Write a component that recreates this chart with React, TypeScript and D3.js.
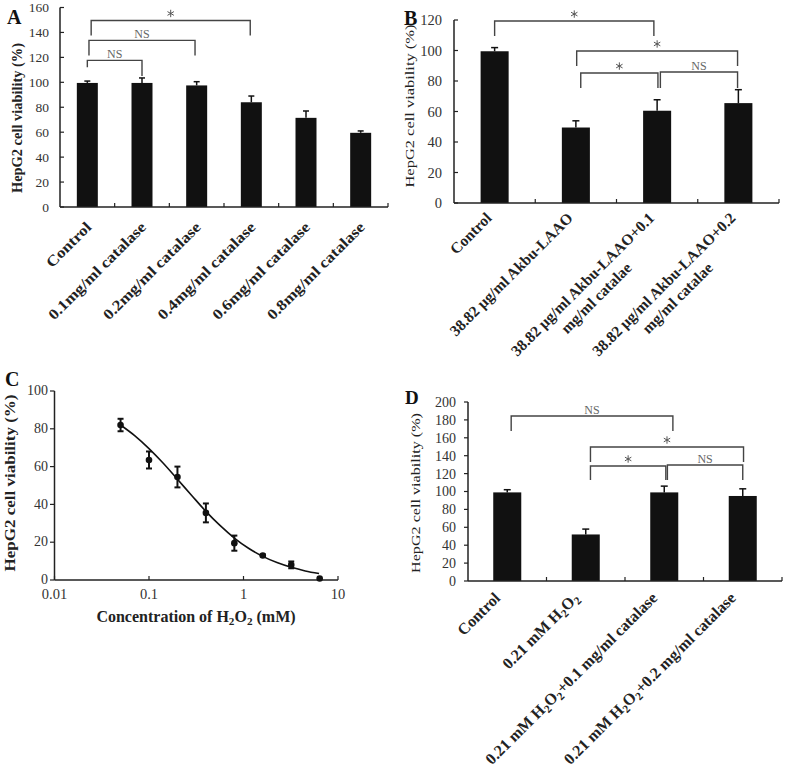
import React, { useLayoutEffect, useRef } from "react";
import * as d3 from "d3";

const SERIF = "'Liberation Serif','Times New Roman',Times,serif";

// ---------- Panel A data ----------
const catsA = [["Control"], ["0.1mg/ml catalase"], ["0.2mg/ml catalase"], ["0.4mg/ml catalase"], ["0.6mg/ml catalase"], ["0.8mg/ml catalase"]];
const valsA = [99.5, 99.5, 97.5, 84, 71.5, 59.5];
const errsA = [1.5, 4, 3, 5, 5.5, 1.5];
const ticksA = [0, 20, 40, 60, 80, 100, 120, 140, 160];
const bracketsA = [
  { a: 0, b: 1, label: "NS", top: 117.6, endA: 112, endB: 105 },
  { a: 0.03, b: 1.97, label: "NS", top: 133.6, endA: 121.6, endB: 121.6 },
  { a: 0.07, b: 2.98, label: "*", top: 149.6, endA: 137.6, endB: 137.6 },
];

// ---------- Panel B data ----------
const catsB = [
  ["Control"],
  ["38.82 μg/ml Akbu-LAAO"],
  ["38.82 μg/ml Akbu-LAAO+0.1", "mg/ml catalae"],
  ["38.82 μg/ml Akbu-LAAO+0.2", "mg/ml catalae"],
];
const valsB = [99.5, 49.5, 60.5, 65.5];
const errsB = [2.4, 4.4, 7.2, 8.8];
const ticksB = [0, 20, 40, 60, 80, 100, 120];
const bracketsB = [
  { a: 0, b: 1.96, label: "*", top: 119.3, endA: 109.5, endB: 109.5 },
  { a: 1.01, b: 2.99, label: "*", top: 99.7, endA: 89.8, endB: 89.8 },
  { a: 1.06, b: 2.01, label: "*", top: 85.2, endA: 75.4, endB: 75.4 },
  { a: 2.04, b: 2.99, label: "NS", top: 85.9, endA: 75.4, endB: 75.4 },
];

// ---------- Panel C data ----------
const dosesC = [0.05, 0.1, 0.2, 0.4, 0.8, 1.6, 3.2, 6.4];
const viabC = [82, 63.5, 54.5, 35.5, 19.5, 13, 8, 0.8];
const errC = [3.3, 4.5, 5.5, 5, 4, 0.5, 1.8, 0];
const fitDoseC = [0.05, 0.07, 0.1, 0.14, 0.2, 0.28, 0.4, 0.56, 0.8, 1.13, 1.6, 2.26, 3.2, 4.5, 6.3];
const fitViabC = [82, 76.5, 69.5, 62, 53.3, 45, 36.3, 29, 22.2, 16.8, 12.5, 9.2, 6.7, 4.8, 3.4];
const xTicksC = [0.01, 0.1, 1, 10];
const xTickLabelsC = ["0.01", "0.1", "1", "10"];
const yTicksC = [0, 20, 40, 60, 80, 100];

// ---------- Panel D data ----------
const catsD = [["Control"], ["0.21 mM H_2O_2"], ["0.21 mM H_2O_2+0.1 mg/ml catalase"], ["0.21 mM H_2O_2+0.2 mg/ml catalase"]];
const valsD = [99, 52, 99, 95];
const errsD = [3, 6, 7, 8];
const ticksD = [0, 20, 40, 60, 80, 100, 120, 140, 160, 180, 200];
const bracketsD = [
  { a: 0.05, b: 2.11, label: "NS", top: 184.4, endA: 167.6, endB: 167.6 },
  { a: 1.06, b: 3.01, label: "*", top: 149.7, endA: 133, endB: 133 },
  { a: 1.06, b: 2.02, label: "*", top: 128.5, endA: 112.8, endB: 112.8 },
  { a: 2.04, b: 3.0, label: "NS", top: 129.6, endA: 112.8, endB: 112.8 },
];

const asteriskPath = d3.symbol(d3.symbolAsterisk, 38)() || "";

function rich(s: string) {
  const parts = s.split(/(_\d)/).filter((p) => p !== "");
  const out: any[] = [];
  let prevSub = false;
  parts.forEach((pt, i) => {
    if (pt.startsWith("_")) {
      out.push(
        <tspan key={i} fontSize="0.7em" dy="0.3em">
          {pt.slice(1)}
        </tspan>
      );
      prevSub = true;
    } else {
      out.push(
        <tspan key={i} dy={prevSub ? "-0.21em" : undefined}>
          {pt}
        </tspan>
      );
      prevSub = false;
    }
  });
  return out;
}

type Cfg = {
  cats: string[][];
  vals: number[];
  errs: number[];
  ticks: number[];
  yMax: number;
  brackets: { a: number; b: number; label: string; top: number; endA: number; endB: number }[];
  x0: number;
  x1: number;
  yZero: number;
  yTop: number;
  barFrac: number;
  capW: number;
  tickIn: boolean;
  tickLabelGap: number;
  tickFont: number;
  labelFont: number;
  labelDx: number;
  labelDy: number;
  labelStretch: number;
  title: { x: number; y: number; len: number; size: number; bold: boolean };
  letter: { x: number; y: number; t: string; size: number };
};

function BarPanel({ c }: { c: Cfg }) {
  const n = c.cats.length;
  const pad = 1 - c.barFrac;
  const xb = d3.scaleBand<number>().domain(d3.range(n)).range([c.x0, c.x1]).paddingInner(pad).paddingOuter(pad / 2);
  const step = xb.step();
  const c0 = (xb(0) as number) + xb.bandwidth() / 2;
  const pos = d3.scaleLinear().domain([0, n - 1]).range([c0, c0 + step * (n - 1)]);
  const y = d3.scaleLinear().domain([0, c.yMax]).range([c.yZero, c.yTop]);
  const tk = c.tickIn ? 4 : -4;
  const axisCol = "#222";
  return (
    <g fontFamily={SERIF}>
      <text x={c.letter.x} y={c.letter.y} fontSize={c.letter.size} fontWeight="bold" fill="#111">
        {c.letter.t}
      </text>
      <text
        transform={`translate(${c.title.x},${c.title.y}) rotate(-90)`}
        textAnchor="middle"
        fontSize={c.title.size}
        fontWeight={c.title.bold ? "bold" : "normal"}
        textLength={c.title.len}
        lengthAdjust="spacingAndGlyphs"
        fill="#222"
      >
        HepG2 cell viability (%)
      </text>
      {c.vals.map((v, i) => (
        <rect key={i} x={xb(i)} y={y(v)} width={xb.bandwidth()} height={y(0) - y(v)} fill="#111" />
      ))}
      {c.vals.map((v, i) => {
        const cx = pos(i);
        return (
          <g key={i} stroke="#111" strokeWidth={1.5}>
            <line x1={cx} x2={cx} y1={y(v)} y2={y(v + c.errs[i])} />
            <line x1={cx - c.capW / 2} x2={cx + c.capW / 2} y1={y(v + c.errs[i])} y2={y(v + c.errs[i])} />
          </g>
        );
      })}
      <line x1={c.x0} x2={c.x0} y1={y(0)} y2={y(c.yMax)} stroke={axisCol} strokeWidth={1.5} />
      <line x1={c.x0} x2={c.x1} y1={y(0)} y2={y(0)} stroke={axisCol} strokeWidth={1.5} />
      {c.ticks.map((t) => (
        <g key={t}>
          <line x1={c.x0} x2={c.x0 + tk} y1={y(t)} y2={y(t)} stroke={axisCol} strokeWidth={1.2} />
          <text x={c.x0 - c.tickLabelGap} y={y(t)} dy="0.35em" textAnchor="end" fontSize={c.tickFont} fill="#333">
            {t}
          </text>
        </g>
      ))}
      {d3.range(1, n + 1).map((i) => (
        <line key={i} x1={c.x0 + i * step} x2={c.x0 + i * step} y1={y(0)} y2={y(0) - 4} stroke={axisCol} strokeWidth={1.2} />
      ))}
      {c.cats.map((lines, i) => (
        <g
          key={i}
          className="catlabel"
          transform={`translate(${pos(i) + c.labelDx},${c.yZero + c.labelDy}) rotate(-45) scale(${c.labelStretch},1)`}
        >
          <text className="l1" textAnchor="end" fontSize={c.labelFont} fontWeight="bold" fill="#222">
            {rich(lines[0])}
          </text>
          {lines.length > 1 && (
            <text className="l2" textAnchor="middle" y={c.labelFont * 1.25} fontSize={c.labelFont} fontWeight="bold" fill="#222">
              {rich(lines[1])}
            </text>
          )}
        </g>
      ))}
      {c.brackets.map((b, i) => {
        const xa = pos(b.a);
        const xe = pos(b.b);
        const star = b.label === "*";
        const mx = (xa + xe) / 2;
        return (
          <g key={i}>
            <path d={`M${xa},${y(b.endA)}V${y(b.top)}H${xe}V${y(b.endB)}`} fill="none" stroke="#444" strokeWidth={1.4} />
            {star ? (
              <path transform={`translate(${mx},${y(b.top) - 7})`} d={asteriskPath} fill="none" stroke="#555" strokeWidth={1} />
            ) : (
              <text x={mx} y={y(b.top) - 2} textAnchor="middle" fontSize={12} fill="#666">
                {b.label}
              </text>
            )}
          </g>
        );
      })}
    </g>
  );
}

function PanelC() {
  const x = d3.scaleLog().domain([0.01, 10]).range([54.5, 338]);
  const y = d3.scaleLinear().domain([0, 100]).range([580, 391]);
  const line = d3
    .line<number>()
    .x((_, i) => x(fitDoseC[i]))
    .y((d) => y(d))
    .curve(d3.curveMonotoneX);
  const axisCol = "#222";
  return (
    <g fontFamily={SERIF}>
      <text x={5} y={386} fontSize={20} fontWeight="bold" fill="#111">
        C
      </text>
      <text
        transform={`translate(15,483) rotate(-90)`}
        textAnchor="middle"
        fontSize={15}
        fontWeight="bold"
        textLength={177}
        lengthAdjust="spacingAndGlyphs"
        fill="#222"
      >
        HepG2 cell viability (%)
      </text>
      <line x1={54.5} x2={54.5} y1={y(0)} y2={y(100)} stroke={axisCol} strokeWidth={1.5} />
      <line x1={54.5} x2={338} y1={y(0)} y2={y(0)} stroke={axisCol} strokeWidth={1.5} />
      {yTicksC.map((t) => (
        <g key={t}>
          <line x1={54.5} x2={50} y1={y(t)} y2={y(t)} stroke={axisCol} strokeWidth={1.2} />
          <text x={48} y={y(t)} dy="0.3em" textAnchor="end" fontSize={14} fill="#333">
            {t}
          </text>
        </g>
      ))}
      {xTicksC.map((t, i) => (
        <g key={t}>
          <line x1={x(t)} x2={x(t)} y1={y(0)} y2={y(0) - 4} stroke={axisCol} strokeWidth={1.2} />
          <text x={x(t)} y={599} textAnchor="middle" fontSize={14.5} fill="#333">
            {xTickLabelsC[i]}
          </text>
        </g>
      ))}
      <text x={196} y={622} textAnchor="middle" fontSize={16} fontWeight="bold" fill="#222">
        {rich("Concentration of H_2O_2 (mM)")}
      </text>
      <path d={line(fitViabC) || ""} fill="none" stroke="#111" strokeWidth={1.6} />
      {dosesC.map((d, i) => {
        const cx = x(d);
        return (
          <g key={i} stroke="#111" strokeWidth={2}>
            {errC[i] > 0 && (
              <>
                <line x1={cx} x2={cx} y1={y(viabC[i] - errC[i])} y2={y(viabC[i] + errC[i])} />
                <line x1={cx - 3} x2={cx + 3} y1={y(viabC[i] + errC[i])} y2={y(viabC[i] + errC[i])} />
                <line x1={cx - 3} x2={cx + 3} y1={y(viabC[i] - errC[i])} y2={y(viabC[i] - errC[i])} />
              </>
            )}
            <circle cx={cx} cy={y(viabC[i])} r={3.3} fill="#111" stroke="none" />
          </g>
        );
      })}
    </g>
  );
}

const cfgA: Cfg = {
  cats: catsA, vals: valsA, errs: errsA, ticks: ticksA, yMax: 160, brackets: bracketsA,
  x0: 60, x1: 388, yZero: 207, yTop: 7.5, barFrac: 0.384, capW: 6, tickIn: true,
  tickLabelGap: 11, tickFont: 13.5, labelFont: 15, labelDx: 5, labelDy: 21, labelStretch: 1.15,
  title: { x: 22, y: 118, len: 150, size: 14, bold: true },
  letter: { x: 7, y: 24, t: "A", size: 20 },
};
const cfgB: Cfg = {
  cats: catsB, vals: valsB, errs: errsB, ticks: ticksB, yMax: 120, brackets: bracketsB,
  x0: 454, x1: 779, yZero: 203, yTop: 20, barFrac: 0.345, capW: 7, tickIn: true,
  tickLabelGap: 12, tickFont: 14.5, labelFont: 15.5, labelDx: -2, labelDy: 16, labelStretch: 1,
  title: { x: 414, y: 106, len: 163, size: 13, bold: false },
  letter: { x: 404, y: 25, t: "B", size: 20 },
};
const cfgD: Cfg = {
  cats: catsD, vals: valsD, errs: errsD, ticks: ticksD, yMax: 200, brackets: bracketsD,
  x0: 468, x1: 782, yZero: 581, yTop: 402, barFrac: 0.357, capW: 7, tickIn: false,
  tickLabelGap: 12, tickFont: 14, labelFont: 16, labelDx: -6, labelDy: 18, labelStretch: 1,
  title: { x: 420, y: 493, len: 160, size: 13, bold: false },
  letter: { x: 405, y: 404, t: "D", size: 19 },
};

export default function App() {
  const ref = useRef<SVGSVGElement>(null);
  useLayoutEffect(() => {
    if (!ref.current) return;
    d3.select(ref.current)
      .selectAll<SVGGElement, unknown>("g.catlabel")
      .each(function () {
        const g = d3.select(this);
        const l1 = g.select<SVGTextElement>("text.l1").node();
        const l2 = g.select<SVGTextElement>("text.l2");
        if (l1 && !l2.empty()) {
          const w = l1.getComputedTextLength();
          l2.attr("x", -w / 2);
        }
      });
  }, []);
  return (
    <svg
      ref={ref}
      width={787}
      height={764}
      viewBox="0 0 787 764"
      style={{ position: "absolute", left: 0, top: 0, background: "#fff" }}
    >
      <rect width={787} height={764} fill="#fff" />
      <BarPanel c={cfgA} />
      <BarPanel c={cfgB} />
      <PanelC />
      <BarPanel c={cfgD} />
    </svg>
  );
}
